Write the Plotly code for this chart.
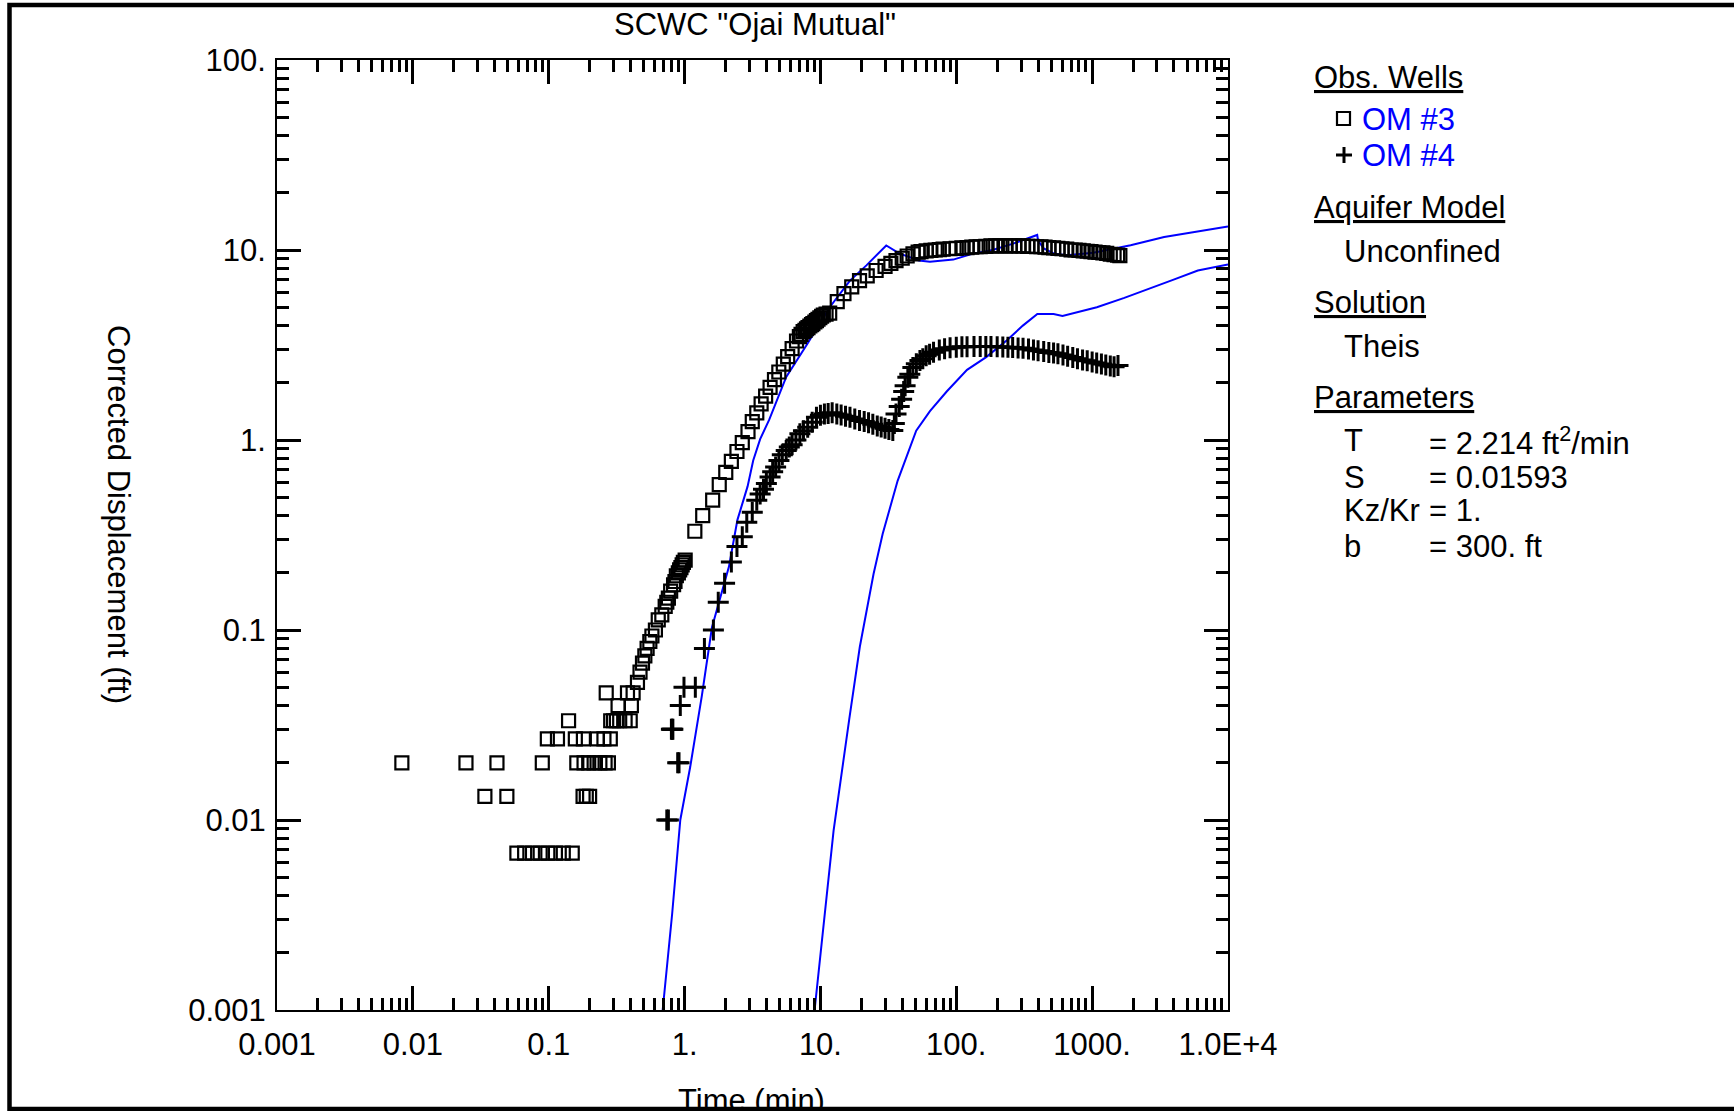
import plotly.graph_objects as go

# ---------------- data ----------------
om3_time = [0.0083, 0.0246, 0.0339, 0.0416, 0.0492, 0.0583, 0.0665, 0.0759, 0.0865, 0.0897,
            0.0977, 0.0985, 0.112, 0.116, 0.128, 0.140, 0.149, 0.157, 0.161, 0.179,
            0.180, 0.182, 0.189, 0.197, 0.200, 0.216, 0.228, 0.238, 0.255, 0.260,
            0.265, 0.275, 0.284, 0.286, 0.300, 0.315, 0.324, 0.333, 0.365, 0.380,
            0.398, 0.406, 0.418, 0.45, 0.47, 0.49, 0.51, 0.53, 0.555, 0.575,
            0.61, 0.64, 0.68, 0.72, 0.74, 0.76, 0.79, 0.83, 0.85, 0.87,
            0.90, 0.92, 0.94, 0.96, 0.98, 1.01,
            1.19, 1.36, 1.61, 1.80, 2.01, 2.21, 2.43, 2.66, 2.93, 3.15,
            3.40, 3.66, 3.95, 4.26, 4.59, 4.94, 5.33, 5.74, 6.19, 6.67,
            7.0, 7.2, 7.46, 7.7, 7.9, 8.1, 8.36, 8.6, 8.8, 9.1, 9.35, 9.6, 9.9, 10.2,
            10.5, 11.0, 11.7, 13.3, 14.9, 17.0, 19.4, 22.1, 25.7, 29.9,
            33.0, 36.0, 40.0, 43.5, 48.0, 52.4,
            55, 60, 65, 70, 75, 80, 90, 100, 110, 120, 130, 140, 150, 165, 180, 195,
            210, 230, 250, 270, 290, 310, 335, 360, 390, 420, 450, 480, 520, 560,
            600, 650, 700, 750, 800, 860, 920, 980, 1050, 1120, 1200, 1280, 1360,
            1450, 1540, 1600]
om3_disp = [0.020, 0.020, 0.0133, 0.020, 0.0133, 0.0067, 0.0067, 0.0067, 0.0067, 0.020,
            0.0267, 0.0067, 0.0067, 0.0267, 0.0067, 0.0333, 0.0067, 0.0267, 0.020, 0.0133,
            0.0267, 0.020, 0.0133, 0.020, 0.0133, 0.020, 0.0267, 0.020, 0.0267, 0.020,
            0.0467, 0.020, 0.0267, 0.0333, 0.0333, 0.0333, 0.040, 0.0333, 0.0333, 0.0467,
            0.0333, 0.040, 0.0467, 0.053, 0.060, 0.067, 0.073, 0.080, 0.087, 0.093,
            0.100, 0.113, 0.120, 0.133, 0.140, 0.147, 0.160, 0.173, 0.180, 0.193,
            0.200, 0.207, 0.213, 0.220, 0.227, 0.233,
            0.331, 0.400, 0.482, 0.582, 0.675, 0.771, 0.870, 0.968, 1.107, 1.249,
            1.39, 1.55, 1.70, 1.89, 2.08, 2.28, 2.51, 2.75, 3.03, 3.32,
            3.50, 3.60, 3.72, 3.78, 3.85, 3.90, 3.98, 4.05, 4.10, 4.18, 4.25, 4.32, 4.40, 4.48,
            4.55, 4.60, 4.65, 5.35, 5.90, 6.40, 6.90, 7.30, 7.80, 8.20,
            8.50, 8.80, 9.05, 9.30, 9.55, 9.75,
            9.8, 9.9, 9.95, 10.0, 10.05, 10.1, 10.15, 10.2, 10.25, 10.3, 10.35, 10.4, 10.4, 10.45, 10.5, 10.5,
            10.5, 10.5, 10.5, 10.5, 10.5, 10.5, 10.45, 10.45, 10.4, 10.4, 10.35, 10.3, 10.25, 10.2,
            10.15, 10.1, 10.0, 10.0, 9.95, 9.9, 9.85, 9.8, 9.75, 9.7, 9.65, 9.6, 9.5,
            9.45, 9.4, 9.35]

om4_time = [0.74, 0.76, 0.80, 0.81, 0.82, 0.89, 0.91, 0.93, 0.99, 1.20,
            1.40, 1.63, 1.77, 1.97, 2.21, 2.43, 2.66, 2.87, 3.15, 3.40,
            3.6, 3.81, 4.0, 4.26, 4.45, 4.68, 4.95, 5.24, 5.6, 5.9,
            6.19, 6.6, 7.06, 7.5, 8.06, 8.7, 9.35, 10.0, 10.7, 11.4,
            12.2, 13.2, 14.2, 15.3, 16.5, 17.9, 19.4, 21.0, 22.6, 24.3,
            26.2, 28.0, 29.9, 31.9, 34.1, 35.0, 36.0, 38.0, 39.6, 41.0,
            42.0, 44.0, 45.5, 47.9, 50.8, 54.0, 56.7, 60.0, 63.6, 68,
            75, 82, 90, 100, 110, 120, 135, 150, 165, 180,
            200, 220, 240, 260, 285, 310, 340, 370, 400, 440,
            480, 520, 560, 610, 660, 720, 780, 850, 920, 1000,
            1080, 1170, 1260, 1360, 1450, 1550]
om4_disp = [0.01, 0.01, 0.03, 0.03, 0.03, 0.02, 0.02, 0.04, 0.05, 0.05,
            0.08, 0.10, 0.14, 0.176, 0.228, 0.275, 0.31, 0.369, 0.416, 0.482,
            0.52, 0.551, 0.59, 0.639, 0.68, 0.721, 0.78, 0.836, 0.88, 0.92,
            0.943, 1.0, 1.078, 1.12, 1.168, 1.24, 1.318, 1.35, 1.372, 1.38,
            1.39, 1.37, 1.354, 1.335, 1.318, 1.29, 1.266, 1.25, 1.233, 1.21,
            1.184, 1.17, 1.152, 1.135, 1.122, 1.22, 1.37, 1.50, 1.64, 1.80,
            1.93, 2.14, 2.22, 2.41, 2.52, 2.62, 2.68, 2.78, 2.83, 2.90,
            2.98, 3.02, 3.06, 3.08, 3.10, 3.10, 3.11, 3.11, 3.11, 3.11,
            3.10, 3.09, 3.08, 3.07, 3.05, 3.04, 3.01, 2.98, 2.95, 2.92,
            2.89, 2.87, 2.84, 2.80, 2.76, 2.72, 2.68, 2.64, 2.61, 2.57,
            2.54, 2.51, 2.48, 2.45, 2.43, 2.47]

fit3_time = [0.69, 0.81, 0.93, 1.10, 1.34, 1.59, 2.12, 2.45, 2.91, 3.2,
             3.6, 4.2, 5.6, 8.0, 11.7, 16.5, 21.8, 30.5, 38, 53,
             64, 95, 135, 185, 262, 394, 400, 440, 520, 650,
             1020, 1920, 3390, 10000]
fit3_disp = [0.001, 0.0032, 0.010, 0.019, 0.045, 0.103, 0.215, 0.38, 0.57, 0.78,
             1.01, 1.28, 2.15, 3.2, 5.0, 6.9, 8.3, 10.57, 9.6, 8.8,
             8.67, 8.9, 9.6, 10.0, 10.8, 12.0, 11.2, 10.2, 9.6, 9.38,
             9.67, 10.6, 11.7, 13.3]

fit4_time = [9.06, 12.5, 16.3, 19.5, 24.6, 28.7, 37, 50.7, 64, 85,
             120, 166, 236, 309, 395, 520, 605, 1083, 1725, 2560,
             3890, 6000, 10000]
fit4_disp = [0.001, 0.0088, 0.034, 0.0816, 0.197, 0.32, 0.61, 1.12, 1.42, 1.80,
             2.34, 2.73, 3.35, 4.0, 4.6, 4.6, 4.5, 5.0, 5.6, 6.2,
             6.94, 7.8, 8.4]

x_tick_vals = [0.001, 0.01, 0.1, 1, 10, 100, 1000, 10000]
x_tick_text = ["0.001", "0.01", "0.1", "1.", "10.", "100.", "1000.", "1.0E+4"]
y_tick_vals = [0.001, 0.01, 0.1, 1, 10, 100]
y_tick_text = ["0.001", "0.01", "0.1", "1.", "10.", "100."]

well_names = ["OM #3", "OM #4"]
param_names = ["T", "S", "Kz/Kr", "b"]
param_values = ["= 2.214 ft<sup>2</sup>/min", "= 0.01593", "= 1.", "= 300. ft"]

# ---------------- layout helpers ----------------
W, H = 1734, 1111
ML, MR, MT, MB = 277, 506, 60, 101
PW = W - ML - MR
PH = H - MT - MB
FONT = "Liberation Sans, Arial, Helvetica, sans-serif"
FS = 31
BLUE = "#0000ff"


def px(x):
    return (x - ML) / PW


def py(y):
    return (H - MB - y) / PH


x_minor = [m * 10 ** e for e in range(-3, 4) for m in range(2, 10)]
y_minor = [m * 10 ** e for e in range(-3, 2) for m in range(2, 10)]

fig = go.Figure()
fig.add_trace(go.Scatter(x=fit3_time, y=fit3_disp, mode="lines",
                         line=dict(color=BLUE, width=2)))
fig.add_trace(go.Scatter(x=fit4_time, y=fit4_disp, mode="lines",
                         line=dict(color=BLUE, width=2)))
fig.add_trace(go.Scatter(x=om3_time, y=om3_disp, mode="markers",
                         marker=dict(symbol="square-open", size=13, color="black",
                                     line=dict(width=2.2, color="black"))))
fig.add_trace(go.Scatter(x=om4_time, y=om4_disp, mode="markers",
                         marker=dict(symbol="cross-thin", size=15, color="black",
                                     line=dict(width=3, color="black"))))

axis_common = dict(type="log", showline=True, linewidth=2, linecolor="black",
                   mirror="allticks", ticks="inside", ticklen=24, tickwidth=2.5,
                   tickcolor="black", showgrid=False, zeroline=False,
                   tickfont=dict(family=FONT, size=FS, color="black"),
                   tickmode="array")

fig.update_xaxes(range=[-3, 4], tickvals=x_tick_vals, ticktext=x_tick_text,
                 ticklabelstandoff=6,
                 minor=dict(tickmode="array", tickvals=x_minor, ticks="inside",
                            ticklen=12, tickwidth=2.5, tickcolor="black", showgrid=False),
                 **axis_common)
fig.update_yaxes(range=[-3, 2], tickvals=y_tick_vals, ticktext=y_tick_text,
                 ticklabelstandoff=3,
                 minor=dict(tickmode="array", tickvals=y_minor, ticks="inside",
                            ticklen=12, tickwidth=2.5, tickcolor="black", showgrid=False),
                 **axis_common)

ann = []


def text(x, y, s, color="black", xanchor="left", angle=0, yanchor="middle"):
    ann.append(dict(x=px(x), y=py(y), xref="paper", yref="paper", text=s,
                    showarrow=False, xanchor=xanchor, yanchor=yanchor,
                    textangle=angle,
                    font=dict(family=FONT, size=FS, color=color)))


text(755, 24, 'SCWC "Ojai Mutual"', xanchor="center")
text(751, 1081, "Time (min)", xanchor="center", yanchor="top")
text(119, 514, "Corrected Displacement (ft)", xanchor="center", angle=90)

text(1312, 77, "<u>Obs. Wells</u>")
text(1360, 119, well_names[0], color=BLUE)
text(1360, 155, well_names[1], color=BLUE)
text(1312, 208, "<u>Aquifer Model</u>")
text(1342, 251, "Unconfined")
text(1312, 302, "<u>Solution</u>")
text(1342, 346, "Theis")
text(1312, 397, "<u>Parameters</u>")
rows_y = [441, 477, 511, 546]
for name, val, yy in zip(param_names, param_values, rows_y):
    text(1342, yy, name)
    text(1427, yy, val)

shapes = [
    # outer frame
    dict(type="rect", xref="paper", yref="paper", x0=px(9.5), x1=px(1780),
         y0=py(1109), y1=py(5), line=dict(color="black", width=4.5), layer="above"),
    # legend square
    dict(type="rect", xref="paper", yref="paper", x0=px(1337), x1=px(1350),
         y0=py(125), y1=py(112), line=dict(color="black", width=2.2)),
    # legend plus
    dict(type="line", xref="paper", yref="paper", x0=px(1336), x1=px(1352),
         y0=py(155), y1=py(155), line=dict(color="black", width=3)),
    dict(type="line", xref="paper", yref="paper", x0=px(1344), x1=px(1344),
         y0=py(147), y1=py(163), line=dict(color="black", width=3)),
]

fig.update_layout(width=W, height=H, margin=dict(l=ML, r=MR, t=MT, b=MB),
                  paper_bgcolor="white", plot_bgcolor="white", showlegend=False,
                  annotations=ann, shapes=shapes,
                  font=dict(family=FONT, size=FS, color="black"))

fig.write_html("out.html")
